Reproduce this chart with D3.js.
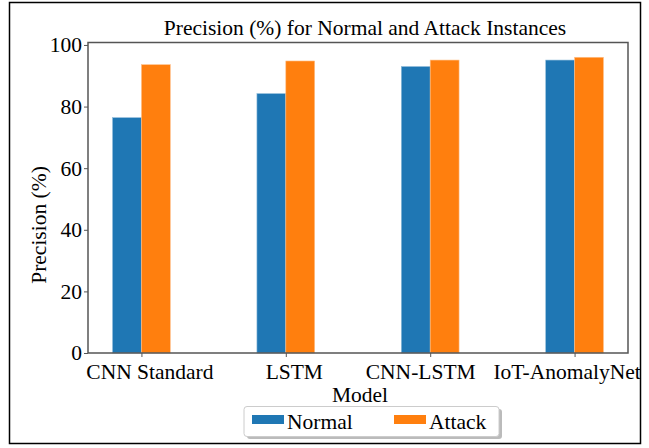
<!DOCTYPE html>
<html><head><meta charset="utf-8">
<script src="https://cdn.jsdelivr.net/npm/d3@7"></script>
<style>body{margin:0;background:#fff}svg{display:block}</style>
</head><body>
<script>
const categories = ["CNN Standard", "LSTM", "CNN-LSTM", "IoT-AnomalyNet"];
const normalValues = [76.4, 84.2, 93.0, 95.1];
const attackValues = [93.6, 94.8, 95.1, 96.0];
const seriesNames = ["Normal", "Attack"];
const yTicks = [0, 20, 40, 60, 80, 100];

const W = 649, H = 448;
const colors = ["#1f77b4", "#ff7f0e"];
const font = "'Liberation Serif', 'Times New Roman', serif";
const fs = 21.5;
const xLabelShift = [8, 8, -10, -8];
const svg = d3.select("body").append("svg").attr("width", W).attr("height", H);

svg.append("rect").attr("x", 0).attr("y", 0).attr("width", W).attr("height", H).attr("fill", "#fff");
svg.append("rect").attr("x", 9.5).attr("y", 2.5).attr("width", 631).attr("height", 441)
  .attr("fill", "none").attr("stroke", "#000").attr("stroke-width", 1.5);

const L = 88, R = 628, T = 42.5, B = 353;
const x = d3.scaleLinear().domain([-0.37, 3.37]).range([L, R]);
const y = d3.scaleLinear().domain([0, 100.8]).range([B, T]);
const bw = 0.2;

[normalValues, attackValues].forEach((vals, si) => {
  svg.append("g").selectAll("rect").data(vals).join("rect")
    .attr("x", (d, i) => x(i + (si === 0 ? -bw : 0)))
    .attr("width", x(bw) - x(0))
    .attr("y", d => y(d))
    .attr("height", d => y(0) - y(d))
    .attr("fill", colors[si])
    .attr("stroke", si === 0 ? "#8fbbda" : "#ffc08a").attr("stroke-width", 0.6);
});

svg.append("rect").attr("x", L).attr("y", T).attr("width", R - L).attr("height", B - T)
  .attr("fill", "none").attr("stroke", "#555").attr("stroke-width", 1.5);

const yAxis = d3.axisLeft(y).tickValues(yTicks).tickSize(4).tickPadding(2);
const gy = svg.append("g").attr("transform", `translate(${L},0)`).call(yAxis);
gy.select(".domain").remove();
gy.selectAll("line").attr("stroke", "#555");
gy.selectAll("text").attr("font-family", font).attr("font-size", fs).attr("fill", "#000");

const xAxis = d3.axisBottom(x).tickValues(d3.range(categories.length)).tickFormat(i => categories[i]).tickSize(4).tickPadding(7);
const gx = svg.append("g").attr("transform", `translate(0,${B})`).call(xAxis);
gx.select(".domain").remove();
gx.selectAll("line").attr("stroke", "#555");
gx.selectAll("text").attr("font-family", font).attr("font-size", fs).attr("fill", "#000")
  .attr("dx", (d, i) => xLabelShift[i]);

svg.append("text").attr("x", 365).attr("y", 35).attr("text-anchor", "middle")
  .attr("font-family", font).attr("font-size", fs).text("Precision (%) for Normal and Attack Instances");
svg.append("text").attr("x", 360).attr("y", 402).attr("text-anchor", "middle")
  .attr("font-family", font).attr("font-size", fs).text("Model");
svg.append("text").attr("transform", `translate(46,225) rotate(-90)`).attr("text-anchor", "middle")
  .attr("font-family", font).attr("font-size", fs).text("Precision (%)");

const lg = svg.append("g");
lg.append("rect").attr("x", 247).attr("y", 409).attr("width", 255).attr("height", 30).attr("rx", 3)
  .attr("fill", "#bbb");
lg.append("rect").attr("x", 244).attr("y", 406.5).attr("width", 255).attr("height", 30).attr("rx", 3)
  .attr("fill", "#fff").attr("stroke", "#ccc").attr("stroke-width", 1);
seriesNames.forEach((n, i) => {
  const sx = [252, 394][i];
  lg.append("rect").attr("x", sx).attr("y", 415).attr("width", 32).attr("height", 9).attr("fill", colors[i]);
  lg.append("text").attr("x", sx + 35).attr("y", 428.5).attr("font-family", font).attr("font-size", fs).text(n);
});
</script>
</body></html>
